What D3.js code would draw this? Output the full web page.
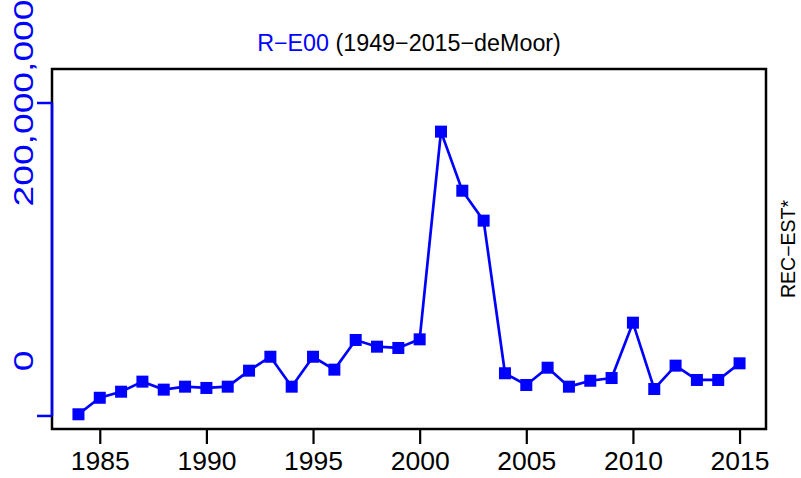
<!DOCTYPE html>
<html><head><meta charset="utf-8">
<script src="https://cdn.jsdelivr.net/npm/d3@7"></script>
<style>body{margin:0;background:#fff}svg{display:block}text{font-family:"Liberation Sans",Arial,sans-serif}</style>
</head><body>
<svg id="c" width="801" height="478"></svg>
<script>
const years = [1984,1985,1986,1987,1988,1989,1990,1991,1992,1993,1994,1995,1996,1997,1998,1999,2000,2001,2002,2003,2004,2005,2006,2007,2008,2009,2010,2011,2012,2013,2014,2015];
const recEst = [-41.3,-28.5,-23.8,-16.0,-22.2,-19.9,-20.9,-19.9,-7.5,3.3,-19.9,3.3,-6.7,16.3,11.1,10.1,16.8,177.8,132.0,108.8,-9.5,-18.6,-5.2,-19.9,-15.3,-13.2,29.7,-21.7,-3.6,-14.7,-14.7,-1.8].map(v=>v*1e6);
const xTicks = [1985,1990,1995,2000,2005,2010,2015];
const yLabelValues = [0, 200e6];
const yAxisRange = [-42.6e6, 200e6];
const titleBlue = "R\u2212E00";
const titleBlack = " (1949\u22122015\u2212deMoor)";
const rightLabel = "REC\u2212EST*";

const svg = d3.select("#c");
const L=52,R=766,T=69,B=429;
const x = d3.scaleLinear().domain([1982.76,2016.24]).range([L,R]);
const y = d3.scaleLinear().domain([0,200e6]).range([361,103]);
const blue="#0000ff";

// box
svg.append("rect").attr("x",L).attr("y",T).attr("width",R-L).attr("height",B-T)
  .attr("fill","none").attr("stroke","#000").attr("stroke-width",2.5);

// x axis
const xa = svg.append("g").attr("transform",`translate(0,${B})`)
  .call(d3.axisBottom(x).tickValues(xTicks).tickFormat(d3.format("d")).tickSize(15).tickSizeOuter(0));
xa.select(".domain").remove();
xa.selectAll(".tick line").attr("stroke","#000").attr("stroke-width",2.2);
xa.selectAll(".tick text").attr("font-size",26.5).attr("fill","#000").attr("dy",null).attr("y",41);

// y axis (custom in blue)
const ya = svg.append("g").attr("transform",`translate(${L},0)`);
ya.append("line").attr("x1",0).attr("x2",0).attr("y1",y(yAxisRange[0])).attr("y2",y(yAxisRange[1]))
  .attr("stroke",blue).attr("stroke-width",2.5);
yAxisRange.forEach(v=>ya.append("line").attr("x1",0).attr("x2",-15).attr("y1",y(v)).attr("y2",y(v))
  .attr("stroke",blue).attr("stroke-width",2.5));
yLabelValues.forEach(v=>ya.append("text").attr("transform",`translate(-19,${y(v)}) rotate(-90) scale(1.33,1)`)
  .attr("text-anchor","middle").attr("font-size",28).attr("fill",blue).text(d3.format(",")(v)));

// line + points
const line = d3.line().x((d,i)=>x(years[i])).y(d=>y(d));
svg.append("path").datum(recEst).attr("d",line).attr("fill","none").attr("stroke",blue).attr("stroke-width",2.7);
const s=12;
svg.selectAll("rect.pt").data(recEst).join("rect").attr("class","pt")
  .attr("x",(d,i)=>x(years[i])-s/2).attr("y",d=>y(d)-s/2).attr("width",s).attr("height",s).attr("fill",blue);

// title
const t = svg.append("text").attr("x",(L+R)/2).attr("y",51).attr("text-anchor","middle").attr("font-size",23.3);
t.append("tspan").attr("fill",blue).text(titleBlue);
t.append("tspan").attr("fill","#000").text(titleBlack);

// right label
svg.append("text").attr("transform",`translate(795,${(T+B)/2}) rotate(-90)`).attr("text-anchor","middle")
  .attr("font-size",19.5).attr("fill","#000").text(rightLabel);
</script>
</body></html>
